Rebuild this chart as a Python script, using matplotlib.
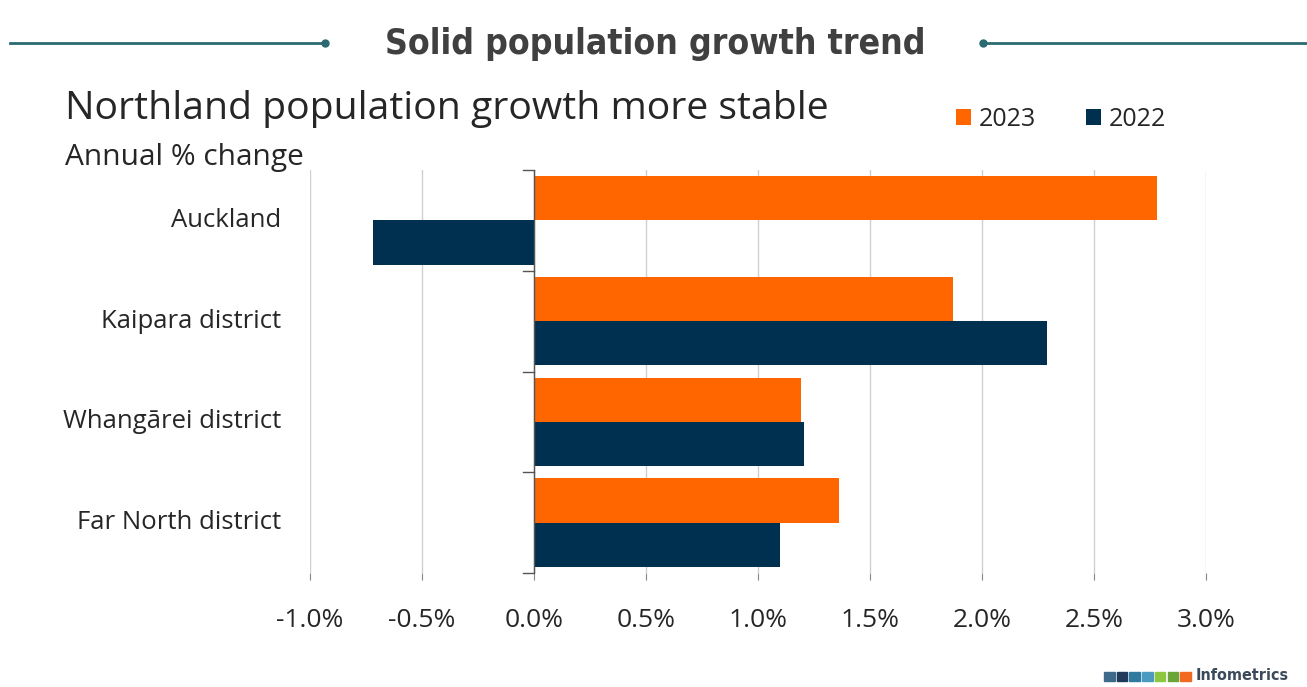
import matplotlib
matplotlib.use("Agg")
import matplotlib.pyplot as plt
import numpy as np

plt.rcParams['font.family'] = ['Open Sans', 'DejaVu Sans']

regions = ["Auckland", "Kaipara district", "Whangārei district", "Far North district"]
growth_2023 = [2.78, 1.87, 1.19, 1.36]
growth_2022 = [-0.72, 2.29, 1.205, 1.10]
x_ticks = [-1.0, -0.5, 0.0, 0.5, 1.0, 1.5, 2.0, 2.5, 3.0]

orange = "#FF6600"
navy = "#00304F"
teal = "#2B6A72"

fig = plt.figure(figsize=(13.07, 6.87), dpi=100)
ax = fig.add_axes([310/1307, 1 - 573/687, (1206 - 310)/1307, (573 - 170)/687])

y = np.arange(len(regions))
h = 0.44
ax.barh(y - h/2, growth_2023, height=h, color=orange, label="2023", zorder=3)
ax.barh(y + h/2, growth_2022, height=h, color=navy, label="2022", zorder=3)

ax.set_xlim(-1.0, 3.0)
ax.set_ylim(len(regions) - 0.5, -0.5)
ax.set_xticks(x_ticks)
ax.set_xticklabels([f"{t:.1f}%" for t in x_ticks], fontsize=19, color="#262626")
ax.tick_params(axis='x', length=5, color="#888888", pad=20)
ax.grid(axis='x', color="#d0d0d0", linewidth=1, zorder=0)
for s in ax.spines.values():
    s.set_visible(False)
ax.axvline(0, color="#555555", linewidth=1, zorder=4)

# category separators on the zero axis
ax.set_yticks([])
for b in np.arange(-0.5, len(regions), 1.0):
    ax.plot([-0.05, 0], [b, b], color="#555555", linewidth=1, zorder=4, clip_on=False)
for i, r in enumerate(regions):
    ax.text(-1.13, i, r, ha='right', va='center', fontsize=18.5, color="#262626")

# title with decorative lines
fig.text(655/1307, 1 - 44/687, "Solid population growth trend", ha='center', va='center',
         fontsize=25.5, fontweight='bold', fontstretch='condensed', color="#404040",
         family=['DejaVu Sans'])
fig.add_artist(plt.Line2D([10/1307, 325/1307], [1 - 43/687] * 2, color=teal, linewidth=2))
fig.add_artist(plt.Line2D([983/1307, 1307/1307], [1 - 43/687] * 2, color=teal, linewidth=2))
fig.add_artist(plt.Line2D([325/1307], [1 - 43/687], marker='o', markersize=5, color=teal))
fig.add_artist(plt.Line2D([983/1307], [1 - 43/687], marker='o', markersize=5, color=teal))

fig.text(65/1307, 1 - 109/687, "Northland population growth more stable", ha='left', va='center',
         fontsize=28.2, color="#262626")
fig.text(65/1307, 1 - 158/687, "Annual % change", ha='left', va='center',
         fontsize=21.5, color="#262626")

# legend
leg = fig.legend(loc='center left', bbox_to_anchor=(951/1307, 1 - 119/687), ncol=2,
                 frameon=False, fontsize=18, handlelength=0.6, handleheight=0.6,
                 columnspacing=2.0, handletextpad=0.3, borderaxespad=0, borderpad=0.2)
for t in leg.get_texts():
    t.set_color("#262626")

# logo
logo_cols = ["#3F6A8A", "#1F3A5A", "#2F7A9F", "#4B9BC0", "#8DC63F", "#6BA539", "#F26A21"]
for i, c in enumerate(logo_cols):
    fig.patches.append(plt.Rectangle(((1104 + i * 12.7)/1307, 1 - 681/687), 10.5/1307, 9/687,
                                     transform=fig.transFigure, color=c))
fig.text(1196/1307, 1 - 676/687, "Infometrics", ha='left', va='center', fontsize=11.5,
         fontweight='bold', fontstretch='condensed', color="#3A4A5A",
         family=['DejaVu Sans'])

fig.savefig("out.png", dpi=100, facecolor="white")
